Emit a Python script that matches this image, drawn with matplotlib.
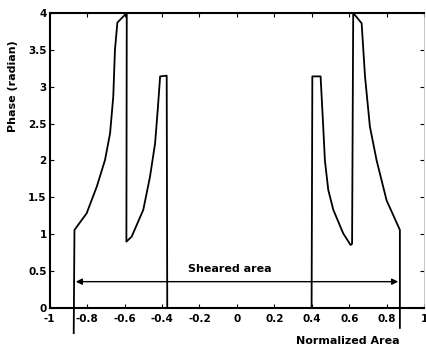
import numpy as np
import matplotlib.pyplot as plt

# phase vs normalized area
left_x = [-0.871, -0.867, -0.802, -0.748, -0.704, -0.677, -0.66, -0.651, -0.638, -0.588,
          -0.59, -0.562, -0.50, -0.464, -0.437, -0.423, -0.41, -0.375, -0.372]
left_y = [-0.34, 1.058, 1.284, 1.645, 2.007, 2.369, 2.865, 3.5, 3.87, 4.0,
          0.9, 0.967, 1.33, 1.78, 2.23, 2.68, 3.14, 3.15, 0.0]

right_x = [0.398, 0.402, 0.446, 0.46, 0.469, 0.487, 0.514, 0.567, 0.606,
           0.614, 0.62, 0.665, 0.683, 0.709, 0.745, 0.798, 0.869, 0.869]
right_y = [0.0, 3.14, 3.14, 2.46, 2.0, 1.6, 1.33, 1.01, 0.854,
           0.87, 4.0, 3.86, 3.14, 2.46, 2.0, 1.46, 1.058, -0.27]

arrow_span = [-0.86, 0.86]
arrow_y = 0.357

xticks = [-1, -0.8, -0.6, -0.4, -0.2, 0, 0.2, 0.4, 0.6, 0.8, 1]
xtick_labels = ["-1", "-0.8", "-0.6", "-0.4", "-0.2", "0", "0.2", "0.4", "0.6", "0.8", "1"]
yticks = [0, 0.5, 1, 1.5, 2, 2.5, 3, 3.5, 4]
ytick_labels = ["0", "0.5", "1", "1.5", "2", "2.5", "3", "3.5", "4"]

fig = plt.figure(figsize=(4.27, 3.5), dpi=100)
ax = fig.add_axes([0.116, 0.12, 0.878, 0.843])

ax.plot(left_x, left_y, color="black", lw=1.3, clip_on=False)
ax.plot(right_x, right_y, color="black", lw=1.3, clip_on=False)

ax.annotate("", xy=(arrow_span[0], arrow_y), xytext=(arrow_span[1], arrow_y),
            arrowprops=dict(arrowstyle="<|-|>", color="black", lw=1.0,
                            mutation_scale=9, shrinkA=0, shrinkB=0))
ax.text(-0.04, 0.53, "Sheared area", fontsize=8, fontweight="bold", ha="center", va="center")

ax.set_xlim(-1, 1)
ax.set_ylim(0, 4)
ax.set_xticks(xticks)
ax.set_xticklabels(xtick_labels)
ax.set_yticks(yticks)
ax.set_yticklabels(ytick_labels)
ax.tick_params(direction="in", length=3, labelsize=7.5, top=True, right=True, pad=2)
ax.tick_params(axis="x", pad=4)
for lab in ax.get_xticklabels() + ax.get_yticklabels():
    lab.set_fontweight("bold")
for s in ["left", "bottom", "top"]:
    ax.spines[s].set_linewidth(1.5)
ax.spines["right"].set_linewidth(0.6)
ax.spines["right"].set_color("#bbbbbb")

fig.text(0.815, 0.025, "Normalized Area", fontsize=8, fontweight="bold", ha="center", va="center")
fig.text(0.03, 0.755, "Phase (radian)", fontsize=8, fontweight="bold", rotation=90,
         ha="center", va="center")

fig.savefig("out.png", dpi=100)
